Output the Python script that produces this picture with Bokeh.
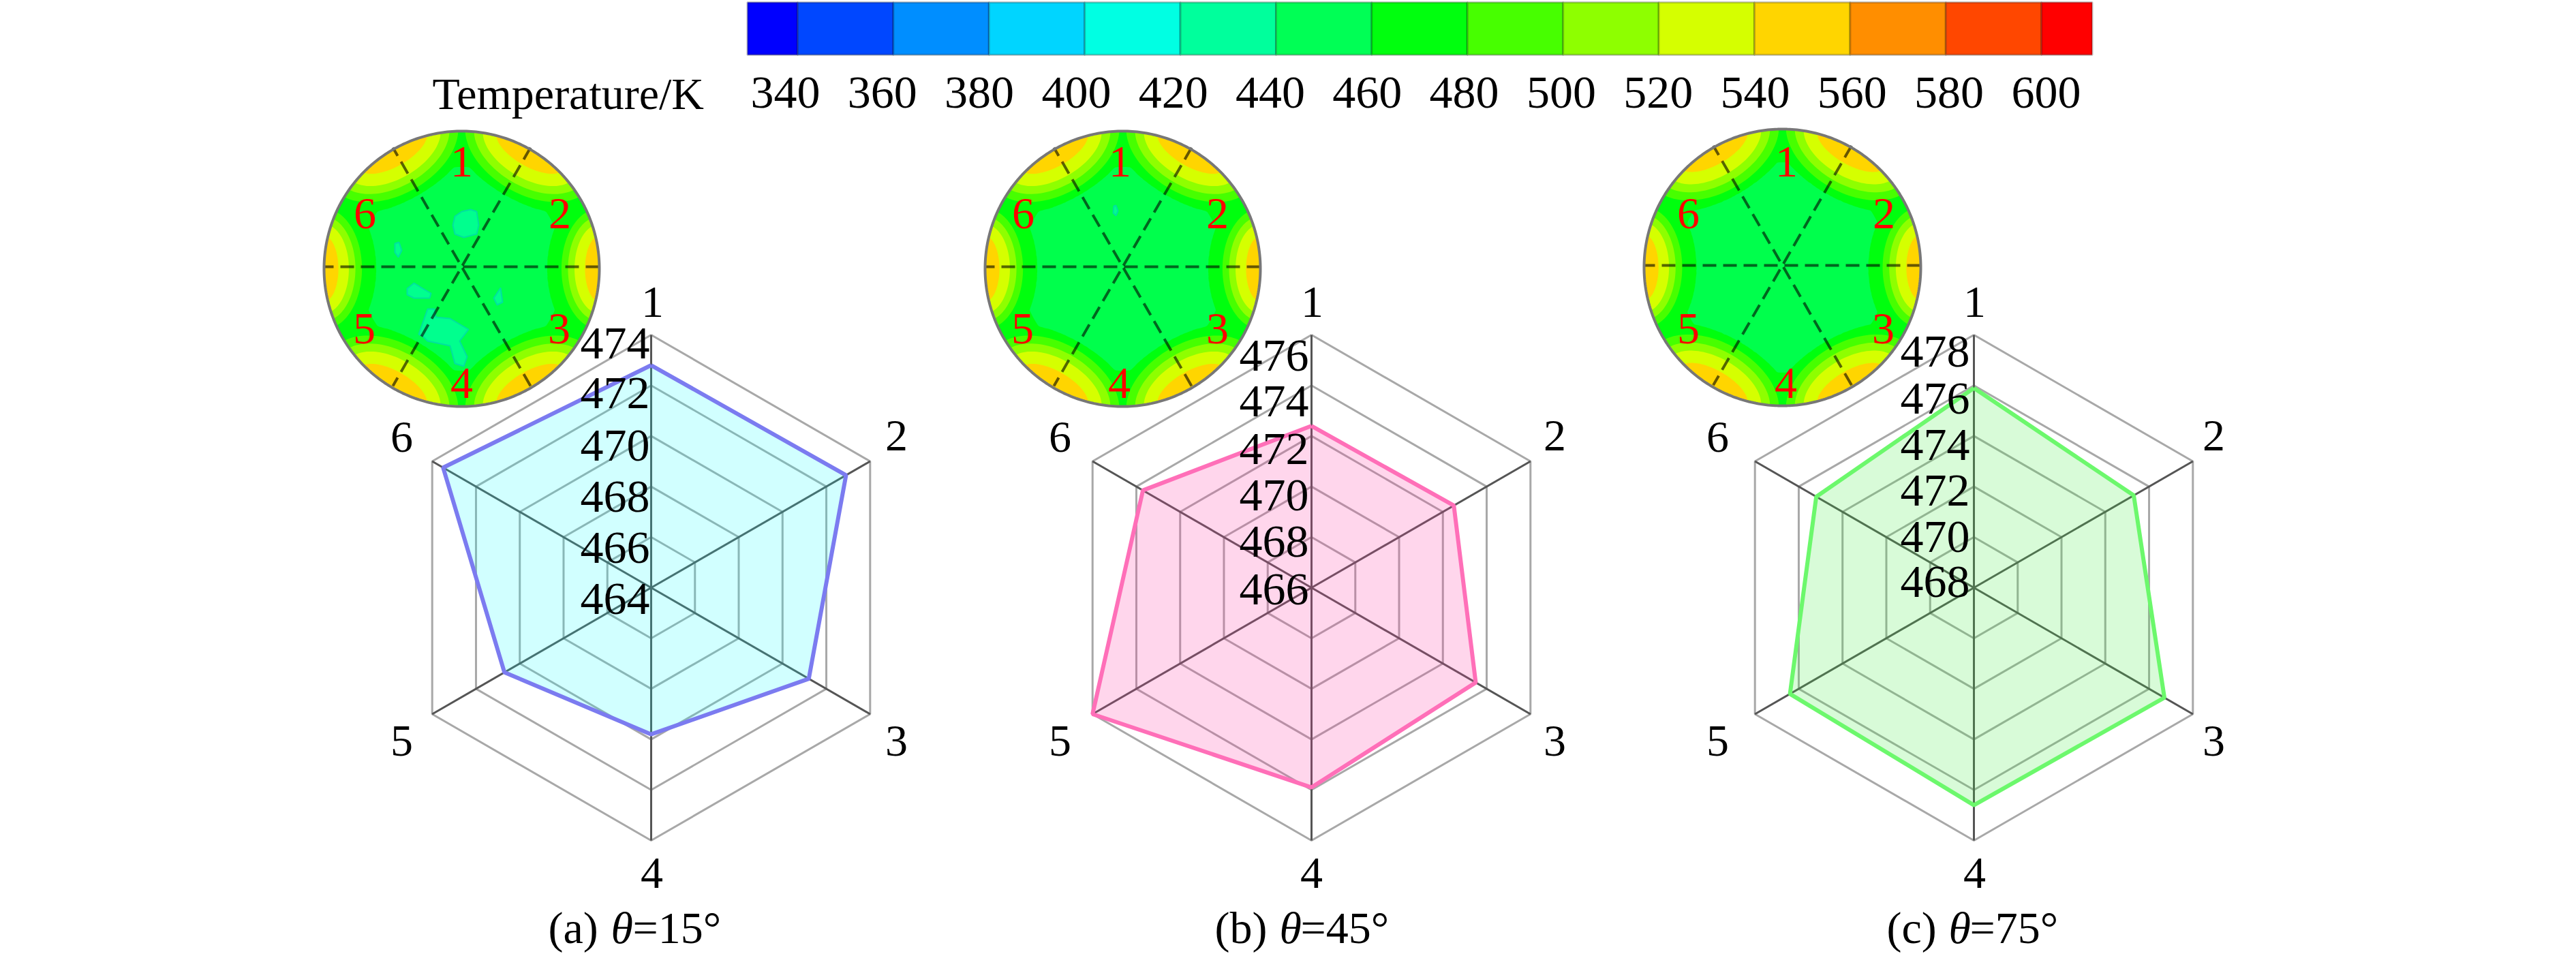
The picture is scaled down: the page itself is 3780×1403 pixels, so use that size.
import numpy as np
from bokeh.plotting import figure
from bokeh.models import Range1d
from bokeh.core.properties import value
from bokeh.embed import file_html
from bokeh.resources import INLINE

# ---- data ----
spokes = ["1", "2", "3", "4", "5", "6"]
temps_a = [472.8, 472.9, 471.2, 469.8, 470.7, 473.5]
temps_b = [472.4, 472.5, 473.5, 473.9, 476.0, 473.7]
temps_c = [475.9, 475.3, 476.7, 476.6, 476.4, 475.2]
ticks_a = [464, 466, 468, 470, 472, 474]
ticks_b = [466, 468, 470, 472, 474, 476]
ticks_c = [468, 470, 472, 474, 476, 478]
bar_levels = [340, 360, 380, 400, 420, 440, 460, 480, 500, 520, 540, 560, 580, 600]
bar_colors = ["#0000FF", "#0047FF", "#008EFF", "#00D5FF", "#00FFE3", "#00FF9C", "#00FF55",
              "#00FF0E", "#47FF00", "#8EFF00", "#D5FF00", "#FFD500", "#FF8E00", "#FF4700", "#FF0000"]
band_colors = ["#FFD500", "#D5FF00", "#8EFF00", "#47FF00"]
core_color, ring_color = "#00FF4C", "#00FF0E"
captions = [("(a) ", "=15°"), ("(b) ", "=45°"), ("(c) ", "=75°")]

# ---- layout (picture pixels) ----
FONT = value("Liberation Serif")
SIZE_TEXT = value("66px")
SIZE_NUM = value("68px")
R_HEX = 371
panels = [
    dict(cx=955, cy=862, ticks=ticks_a, temps=temps_a, fill="#00FFFF", line="#7B7BF0", falpha=.18,
         tick_y=[878, 803, 728, 653, 576, 503], tick_r=953,
         spoke_lab=[(957, 443), (1315, 639), (1315, 1087), (956, 1281), (589, 1087), (589, 641)],
         cap=(804, 896, 928),
         disc=(677, 394, 202), clamp=.74,
         lab=[(677, 237), (821, 313), (820, 482), (677, 562), (534, 482), (535, 313)]),
    dict(cx=1924, cy=862, ticks=ticks_b, temps=temps_b, fill="#FF32A0", line="#FF6FB8", falpha=.2,
         tick_y=[864, 794, 726, 658, 588, 521], tick_r=1920,
         spoke_lab=[(1925, 443), (2281, 639), (2281, 1087), (1924, 1281), (1555, 1087), (1555, 641)],
         cap=(1782, 1877, 1908),
         disc=(1647, 394, 202), clamp=.74,
         lab=[(1643, 237), (1786, 313), (1786, 482), (1642, 562), (1500, 482), (1501, 313)]),
    dict(cx=2896, cy=862, ticks=ticks_c, temps=temps_c, fill="#3CEB3C", line="#6CF86C", falpha=.2,
         tick_y=[853, 787, 719, 652, 584, 515], tick_r=2890,
         spoke_lab=[(2897, 443), (3248, 639), (3248, 1087), (2897, 1281), (2520, 1087), (2520, 641)],
         cap=(2768, 2859, 2890),
         disc=(2615, 392, 203), clamp=.76,
         lab=[(2621, 237), (2764, 313), (2763, 482), (2620, 562), (2477, 482), (2477, 313)]),
]
# cool islands in inset (a) and (b): outline points relative to the disc centre, in picture px
islands = {
    0: [[(0, -84), (13, -87), (22, -84), (25, -64), (22, -51), (3, -46), (-10, -51), (-13, -64), (-10, -77)],
        [(-98, -37), (-92, -39), (-88, -27), (-93, -17), (-98, -24)],
        [(-80, 29), (-70, 21), (-57, 29), (-45, 36), (-47, 43), (-70, 43), (-80, 38)],
        [(47, 43), (57, 28), (60, 49), (52, 53)],
        [(-63, 96), (-50, 59), (-40, 59), (-38, 71), (-17, 73), (10, 89), (-3, 106), (8, 129),
         (3, 143), (-10, 139), (-17, 113), (-50, 106), (-57, 99)]],
    1: [[(-13, -92), (-10, -93), (-7, -85), (-10, -78), (-14, -82)]],
}
island_color = "#00FF8E"
# band half-widths across the wall and along the wall, in disc radii
band_n = [.11, .19, .24, .29]
band_t = [.25, .34, .40, .46]
core_n, core_t = .38, .60
hot_angles = [30, 90, 150, 210, 270, 330]
hot_scale = [1.12, .95, 1.12, 1.12, .95, 1.12]

p = figure(width=3780, height=1403, x_range=Range1d(0, 3780), y_range=Range1d(1403, 0),
           output_backend="svg", toolbar_location=None, min_border=0)
p.axis.visible = False
p.grid.visible = False
p.outline_line_color = None


def label(x, y, txt, color="#000000", align="center", style="normal", size=SIZE_TEXT):
    p.text(x=[x], y=[y], text=[txt], text_font=FONT, text_font_size=size, text_color=color,
           text_align=align, text_baseline="middle", text_font_style=style)


# colour bar
def bar_x(level):
    return 1170 + (level - 340) * 7.02

edges = [329.5] + bar_levels + [610.6]
p.quad(left=[bar_x(v) for v in edges[:-1]], right=[bar_x(v) for v in edges[1:]],
       top=[3] * len(bar_colors), bottom=[80] * len(bar_colors), fill_color=bar_colors,
       line_color="#000000", line_alpha=.22, line_width=3)
for lev in bar_levels:
    label(1152 + (lev - 340) * 7.115, 135, str(lev), size=SIZE_NUM)
label(634, 137, "Temperature/K", align="left")


def hot_centres(rad):
    ang = np.radians(hot_angles)
    return [(rad * np.sin(a), -rad * np.cos(a), a, s) for a, s in zip(ang, hot_scale)]


def inside_any(x, y, rad, nn, tt):
    hit = np.zeros_like(x, dtype=bool)
    for hx, hy, a, s in hot_centres(rad):
        ux, uy = np.sin(a), -np.cos(a)
        n = (x - hx) * ux + (y - hy) * uy
        t = -(x - hx) * uy + (y - hy) * ux
        hit |= (n / (nn * rad)) ** 2 + (t / (tt * s * rad)) ** 2 <= 1
    return hit


def inset(cfg, idx):
    x0, y0, rad = cfg["disc"]
    fi = np.linspace(0, 2 * np.pi, 361)
    # base disc
    p.patch(x0 + rad * np.cos(fi), y0 + rad * np.sin(fi), fill_color=ring_color, line_color=None)
    # cool core: star bounded by arcs around each hot spot
    rr = np.linspace(0, cfg["clamp"] * rad, 300)
    cx, cy = [], []
    for f in fi[:-1]:
        xs, ys = rr * np.sin(f), -rr * np.cos(f)
        h = inside_any(xs, ys, rad, core_n, core_t)
        rmax = rr[np.argmax(h)] if h.any() else rr[-1]
        cx.append(x0 + rmax * np.sin(f))
        cy.append(y0 - rmax * np.cos(f))
    p.patch(cx, cy, fill_color=core_color, line_color=None)
    # hot bands, coolest first, clipped to the disc
    t = np.linspace(0, 2 * np.pi, 121)
    for i in range(len(band_colors) - 1, -1, -1):
        xs_all, ys_all = [], []
        for hx, hy, a, s in hot_centres(rad):
            ux, uy = np.sin(a), -np.cos(a)
            n = band_n[i] * s * rad * np.sin(t)
            tt = band_t[i] * s * rad * np.cos(t)
            px = hx + n * ux - tt * uy
            py = hy + n * uy + tt * ux
            d = np.hypot(px, py)
            scale = np.minimum(1, rad / np.maximum(d, 1e-6))
            xs_all.append(x0 + px * scale)
            ys_all.append(y0 + py * scale)
        p.patches(xs_all, ys_all, fill_color=band_colors[i], line_color=None)
    for isl in islands.get(idx, []):
        p.patch([x0 + q[0] for q in isl], [y0 + q[1] for q in isl], fill_color=island_color,
                line_color="#00E0A0", line_width=2)
    # dashed diameters
    for a in np.radians([30, 90, 150]):
        p.line([x0 + rad * np.sin(a), x0 - rad * np.sin(a)], [y0 - 3 - rad * np.cos(a), y0 - 3 + rad * np.cos(a)],
               line_color="#000000", line_alpha=.6, line_width=4, line_dash="20 10")
    # rim
    p.line(x0 + rad * np.cos(fi), y0 + rad * np.sin(fi), line_color="#777777", line_width=4)
    for txt, (lx, ly) in zip(spokes, cfg["lab"]):
        label(lx, ly, txt, color="#FF0000")


def radar(cfg):
    cx, cy = cfg["cx"], cfg["cy"]
    ang = np.radians(np.arange(6) * 60.0)
    t0, t1 = cfg["ticks"][0], cfg["ticks"][-1]

    def xy(vals):
        f = (np.asarray(vals) - t0) / (t1 - t0) * R_HEX
        return cx + f * np.sin(ang), cy - f * np.cos(ang)

    for tk in cfg["ticks"][1:]:
        x, y = xy([tk] * 6)
        p.line(list(x) + [x[0]], list(y) + [y[0]], line_color="#A8A8A8", line_width=3)
    ox, oy = xy([t1] * 6)
    for x, y in zip(ox, oy):
        p.line([cx, x], [cy, y], line_color="#555555", line_width=3)
    x, y = xy(cfg["temps"])
    p.patch(x, y, fill_color=cfg["fill"], fill_alpha=cfg["falpha"], line_color=None)
    p.line(list(x) + [x[0]], list(y) + [y[0]], line_color=cfg["line"], line_width=6)
    for tk, ty in zip(cfg["ticks"], cfg["tick_y"]):
        label(cfg["tick_r"], ty, str(tk), align="right", size=SIZE_NUM)
    for txt, (lx, ly) in zip(spokes, cfg["spoke_lab"]):
        label(lx, ly, txt)


for i, cfg in enumerate(panels):
    radar(cfg)
    inset(cfg, i)
    xa, xb, xc = cfg["cap"]
    label(xa, 1361, captions[i][0], align="left")
    label(xb, 1361, "θ", align="left", style="italic")
    label(xc, 1361, captions[i][1], align="left")

open("out.html", "w").write(file_html(p, INLINE))
